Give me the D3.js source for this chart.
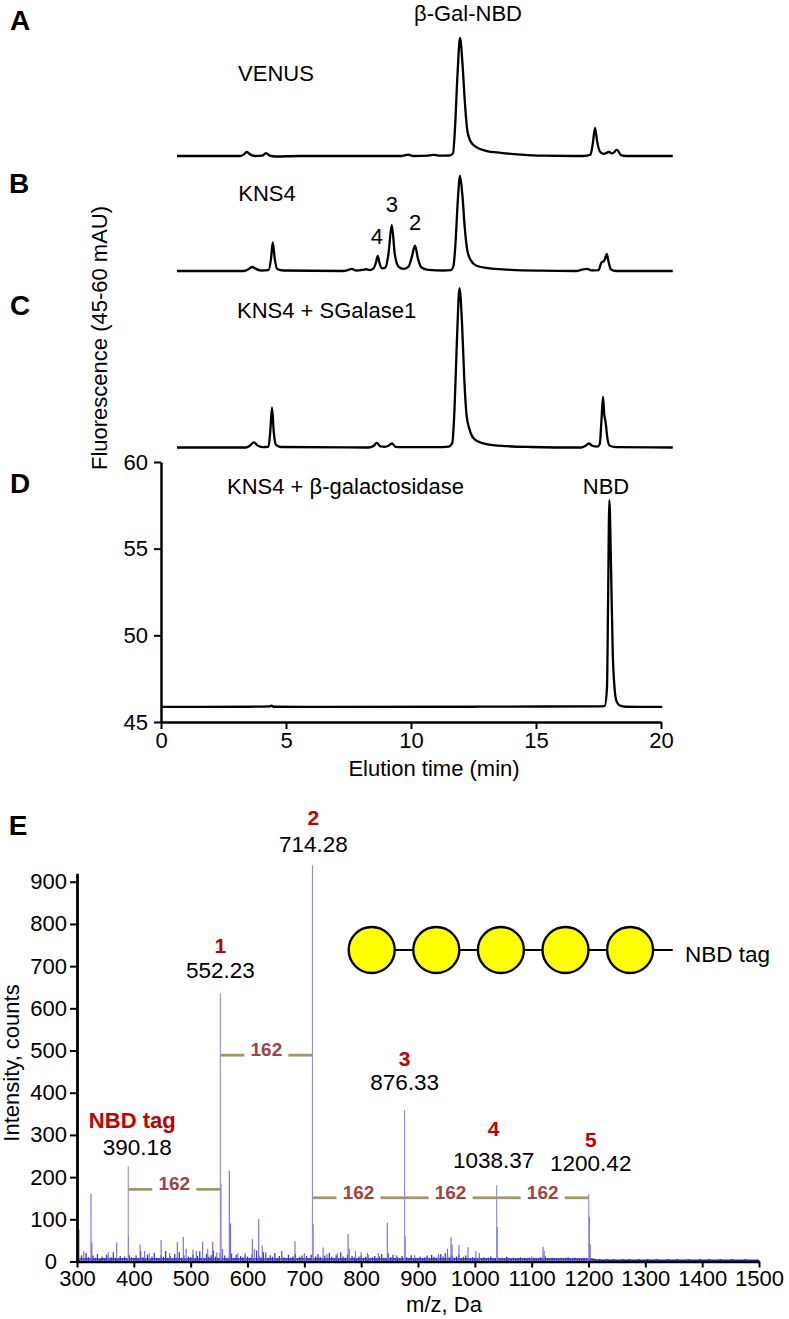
<!DOCTYPE html>
<html><head><meta charset="utf-8">
<script src="https://cdn.jsdelivr.net/npm/d3@7"></script>
<style>
body{margin:0;background:#fff}
svg{display:block}
text{font-family:"Liberation Sans",Arial,Helvetica,sans-serif}
</style>
</head><body>
<svg id="chart" width="789" height="1319"></svg>
<script>
// ---------------- DATA ----------------
// HPLC panels: [elution time (min), fluorescence above baseline (mAU)]
const traceVenus = [[0.64,0],[3.15,0],[3.3,0.08],[3.43,0.23],[3.58,0.08],[3.8,0],[4.05,0.02],[4.2,0.17],[4.35,0.02],[4.6,-0.03],[5.5,0],[9.6,0],[9.88,0.08],[10.1,0],[10.7,0.02],[10.9,0.07],[11.1,0.02],[11.55,0.03],[11.68,0.15],[11.76,1.6],[11.86,4.7],[11.96,6.81],[12.06,5.3],[12.15,3.2],[12.25,1.5],[12.4,0.8],[12.63,0.5],[13.0,0.3],[13.6,0.18],[14.4,0.08],[15.2,0.02],[16.9,0],[17.18,0.08],[17.27,0.7],[17.36,1.62],[17.45,0.8],[17.56,0.25],[17.7,0.12],[17.92,0.23],[18.05,0.15],[18.24,0.35],[18.4,0.05],[18.6,0],[20.47,0]];
const traceKNS4 = [[0.64,0],[3.3,0],[3.5,0.1],[3.64,0.23],[3.8,0.12],[4.0,0.03],[4.3,0.05],[4.4,0.7],[4.47,1.65],[4.55,0.7],[4.65,0.12],[4.9,0.03],[7.3,0],[7.5,0.06],[7.63,0.12],[7.8,0.03],[8.05,0.06],[8.2,0.1],[8.35,0.05],[8.5,0.15],[8.6,0.5],[8.67,0.87],[8.75,0.4],[8.85,0.15],[8.98,0.2],[9.1,1.0],[9.23,2.65],[9.35,1.0],[9.5,0.25],[9.7,0.12],[9.9,0.25],[10.03,0.8],[10.16,1.46],[10.28,0.7],[10.42,0.2],[10.7,0.06],[11.3,0.03],[11.6,0.05],[11.7,0.3],[11.78,1.6],[11.87,4.0],[11.96,5.48],[12.06,4.3],[12.15,2.5],[12.25,1.2],[12.4,0.6],[12.6,0.32],[13.0,0.18],[14.0,0.07],[15.2,0.02],[16.6,0],[16.9,0.1],[17.05,0.12],[17.2,0.04],[17.5,0.05],[17.62,0.5],[17.7,0.55],[17.76,0.7],[17.83,0.98],[17.9,0.55],[18.0,0.08],[18.2,0],[20.47,0]];
const traceSGalase = [[0.64,0],[3.4,0],[3.55,0.1],[3.72,0.29],[3.88,0.1],[4.1,0.02],[4.3,0.05],[4.37,0.9],[4.44,2.31],[4.51,0.9],[4.6,0.15],[4.8,0.03],[8.3,0],[8.5,0.08],[8.63,0.27],[8.78,0.06],[8.95,0.04],[9.1,0.1],[9.24,0.23],[9.38,0.04],[9.6,0.02],[11.0,0.02],[11.5,0.05],[11.65,0.25],[11.74,2.2],[11.84,6.3],[11.94,9.2],[12.04,7.2],[12.13,4.0],[12.22,1.9],[12.35,1.0],[12.56,0.45],[13.0,0.2],[13.8,0.08],[14.8,0.03],[16.8,0],[17.0,0.12],[17.12,0.23],[17.25,0.1],[17.45,0.05],[17.55,0.2],[17.62,1.6],[17.68,2.94],[17.73,1.9],[17.78,1.5],[17.86,0.5],[17.95,0.1],[18.2,0.02],[20.47,0]];
// panel D in absolute mAU
const traceBGal = [[0,45.87],[3.5,45.88],[4.35,45.9],[4.42,45.95],[4.5,45.88],[6.5,45.87],[12.5,45.88],[13,45.89],[17.5,45.9],[17.75,45.93],[17.84,47],[17.88,51.5],[17.935,57.8],[18.0,54],[18.07,49],[18.14,47],[18.22,46.2],[18.35,45.95],[18.6,45.88],[20.05,45.87]];
const hplcXTicks = [0,5,10,15,20];
const hplcYTicks = [45,50,55,60];
const peakNumbers = ["4","3","2"];
const peakNumberTimes = [8.67,9.23,10.16];

// MS panel
const msXTicks = [300,400,500,600,700,800,900,1000,1100,1200,1300,1400,1500];
const msYTicks = [0,100,200,300,400,500,600,700,800,900];
const labelMz = [390.18,552.23,714.28,876.33,1038.37,1200.42];
const labelIntensity = [226,635,939,359,181,160];
const labelNames = ["NBD tag","1","2","3","4","5"];
const minorMz = [303.5,312,324.6,326.2,355,369.8,390.6,411,419,427,448,463,476.5,487,492,504,510,521,530,538.7,546,553.3,556,568,570.2,583,596,608.5,612,619.7,626,632,648,660,683.6,700,715.4,733,740,758,777,779,790,800,811,830,846,848,862,877.4,894,916,936,952,958,960,972,988,1002,1008,1039.4,1058,1100,1120,1122,1201.5,1203];
const minorInt = [75,25,160,45,22,45,62,40,25,20,51,20,46,58,30,28,25,47,30,47,22,185,30,215,90,20,20,53,30,100,38,22,20,25,48,20,88,33,18,20,65,30,25,22,20,20,92,20,15,59,15,12,18,30,58,40,39,34,25,20,82,10,12,35,25,106,40];
// baseline noise, one value every 4 m/z from 300 to 1500
const noiseStart = 300, noiseStep = 4;
const noiseInt = [
12,8,15,6,20,10,7,14,9,18,5,11,8,16,7,10,22,9,6,13,8,12,7,15,10,
9,14,7,24,10,8,16,6,12,20,9,7,15,11,25,8,13,6,18,10,22,9,14,7,12,
10,16,8,13,24,9,7,18,11,15,26,12,9,20,8,14,7,11,19,9,16,8,13,10,15,
12,9,17,8,26,14,10,22,18,9,15,11,20,8,13,24,10,7,16,9,12,18,8,11,14,
9,13,7,16,8,12,18,10,7,14,9,20,11,8,15,7,22,12,9,16,8,13,10,7,12,
14,8,11,16,7,10,13,8,12,18,9,7,14,10,16,8,11,7,13,9,10,8,15,7,9,
8,12,7,10,14,8,16,11,9,13,18,12,20,15,10,14,9,12,16,8,11,14,9,7,10,
9,7,11,8,10,6,9,12,7,8,10,6,9,7,11,8,6,9,7,8,10,6,8,7,9,
7,9,6,8,10,7,12,8,6,9,7,8,6,9,7,8,10,6,7,9,6,8,7,9,6,
8,6,5,4,3,4,3,3,4,3,3,4,3,3,3,4,3,3,4,3,3,3,4,3,3,
3,4,3,3,3,4,3,3,3,3,4,3,3,3,4,3,3,3,3,4,3,3,3,3,4,
3,3,3,4,3,3,3,3,4,3,3,3,3,4,3,3,3,3,3,4,3,3,3,3,3,3];
// mass differences (hexose = 162) between consecutive ladder peaks
const diffFrom = [390.18,552.23,714.28,876.33,1038.37];
const diffTo   = [552.23,714.28,876.33,1038.37,1200.42];
const diffLevel = [171,489,151,151,151];
const diffText = "162";
const glycanUnits = 5;

// ---------------- LAYOUT ----------------
const FONT = 22;
const svg = d3.select("#chart");
svg.append("rect").attr("width",789).attr("height",1319).attr("fill","#fff");

const x = d3.scaleLinear().domain([0,20]).range([161,661]);
const yD = d3.scaleLinear().domain([45,60]).range([722,462]);
const pxPerUnit = (722-462)/15;
const panelY = base => d3.scaleLinear().domain([0,10]).range([base, base-10*pxPerUnit]);
const yA = panelY(156), yB = panelY(271), yC = panelY(447.5);

function drawTrace(data, ys){
  svg.append("path").datum(data)
    .attr("d", d3.line().x(d=>x(d[0])).y(d=>ys(d[1])).curve(d3.curveMonotoneX))
    .attr("fill","none").attr("stroke","#000").attr("stroke-width",2.3)
    .attr("stroke-linejoin","round");
}
drawTrace(traceVenus, yA);
drawTrace(traceKNS4, yB);
drawTrace(traceSGalase, yC);
drawTrace(traceBGal, yD);

function styleAxis(g, domainW){
  g.attr("font-size",null).attr("font-family",null);
  g.select(".domain").attr("stroke","#000").attr("stroke-width",domainW);
  g.selectAll(".tick line").attr("stroke","#000").attr("stroke-width",2);
  g.selectAll(".tick text").attr("fill","#000").style("font-size",FONT+"px")
    .style("font-family",'"Liberation Sans",Arial,sans-serif');
}
const gxD = svg.append("g").attr("transform","translate(0,722)")
  .call(d3.axisBottom(x).tickValues(hplcXTicks).tickSize(7).tickSizeOuter(0).tickPadding(3));
styleAxis(gxD,2.5);
const gyD = svg.append("g").attr("transform","translate(161,0)")
  .call(d3.axisLeft(yD).tickValues(hplcYTicks).tickSize(7).tickSizeOuter(0).tickPadding(6));
styleAxis(gyD,2.5);

function txt(s, px, py, opt={}){
  const t = svg.append("text").attr("x",px).attr("y",py).text(s)
    .attr("text-anchor",opt.anchor||"middle")
    .style("font-size",(opt.size||FONT)+"px")
    .attr("fill",opt.fill||"#000");
  if(opt.bold) t.style("font-weight","bold");
  if(opt.rotate) t.attr("transform",`rotate(-90,${px},${py})`);
  return t;
}
// panel letters
[["A",20,30],["B",19,193],["C",20,315],["D",20,493],["E",18,835]].forEach(d=>txt(d[0],d[1],d[2],{size:28,bold:true}));
// HPLC annotations
txt("β-Gal-NBD",468,21);
txt("VENUS",276,81);
txt("KNS4",267,201);
txt("KNS4 + SGalase1",237,318,{anchor:"start"});
txt("KNS4 + β-galactosidase",227,494,{anchor:"start"});
txt("NBD",x(17.8),494);
const numOffsets = [[-0.04,244],[0.0,212],[0.0,230]];
peakNumbers.forEach((n,i)=>txt(n, x(peakNumberTimes[i]+numOffsets[i][0]), numOffsets[i][1]));
txt("Fluorescence (45-60 mAU)",107,338,{rotate:true});
txt("Elution time (min)",434,776);

// ---------------- MS PANEL ----------------
const xE = d3.scaleLinear().domain([300,1500]).range([77,759]);
const yE = d3.scaleLinear().domain([0,920]).range([1261.5,873.3]);

// noise as dense thin spikes
const noisePath = d3.path();
noiseInt.forEach((v,i)=>{
  const mz = noiseStart + i*noiseStep;
  if(mz>1500) return;
  noisePath.moveTo(xE(mz), yE(0)); noisePath.lineTo(xE(mz), yE(v));
});
svg.append("path").attr("d",noisePath.toString()).attr("stroke","#3a3ad6").attr("stroke-width",1.3).attr("fill","none");
svg.append("path").datum(noiseInt.map((v,i)=>[noiseStart+i*noiseStep, Math.min(v,6)]).filter(d=>d[0]<=1500))
  .attr("d", d3.line().x(d=>xE(d[0])).y(d=>yE(d[1])))
  .attr("stroke","#2c2cc8").attr("stroke-width",1.6).attr("fill","none");
// minor peaks
svg.selectAll("line.minor").data(minorMz).join("line").attr("class","minor")
  .attr("x1",d=>xE(d)).attr("x2",d=>xE(d)).attr("y1",yE(0)).attr("y2",(d,i)=>yE(minorInt[i]))
  .attr("stroke","#6a6ae6").attr("stroke-width",1.1);
// labelled peaks
svg.selectAll("line.major").data(labelMz).join("line").attr("class","major")
  .attr("x1",d=>xE(d)).attr("x2",d=>xE(d)).attr("y1",yE(0)).attr("y2",(d,i)=>yE(labelIntensity[i]))
  .attr("stroke","#8c8cf0").attr("stroke-width",1.1);

const gxE = svg.append("g").attr("transform","translate(0,1261.5)")
  .call(d3.axisBottom(xE).tickValues(msXTicks).tickFormat(d3.format("d")).tickSize(6).tickSizeOuter(0).tickPadding(3));
styleAxis(gxE,2.5);
const gyE = svg.append("g").attr("transform","translate(77,0)")
  .call(d3.axisLeft(yE).tickValues(msYTicks).tickFormat(d3.format("d")).tickSize(7).tickSizeOuter(0).tickPadding(3));
styleAxis(gyE,2.8);
gyE.selectAll(".tick text").filter(d=>d===0).attr("x",-20);

// peak labels
const numLift = [11,16,13,20,17,23];
const numShift = [9,0,1,0,-3,2];
const nameLift = [27,25,27.5,24,32,24];
labelMz.forEach((mz,i)=>{
  const px = xE(mz)+numShift[i];
  const base = yE(labelIntensity[i]) - numLift[i];
  txt(mz.toFixed(2), px, base, {size:22.5});
  txt(labelNames[i], px - (i===0?5:0), base - nameLift[i], {size: i===0?22:21, bold:true, fill:"#c00000"});
});
// 162 spacing brackets
diffFrom.forEach((a,i)=>{
  const x1 = xE(a), x2 = xE(diffTo[i]), yy = yE(diffLevel[i]), mid = (x1+x2)/2;
  [[x1, mid-22],[mid+22, x2]].forEach(s=>svg.append("line")
    .attr("x1",s[0]).attr("x2",s[1]).attr("y1",yy).attr("y2",yy)
    .attr("stroke","#a09868").attr("stroke-width",2.8));
  txt(diffText, mid, yy+1, {size:19, bold:true, fill:"#a04444"});
});
txt("Intensity, counts",18.5,1063,{rotate:true});
txt("m/z, Da",444,1312);

// glycan cartoon
const gx0 = 371.7, gdx = 64.6, gy = 950, gr = 23;
svg.append("line").attr("x1",gx0).attr("x2",672.7).attr("y1",gy).attr("y2",gy)
  .attr("stroke","#000").attr("stroke-width",2);
svg.selectAll("circle.glc").data(d3.range(glycanUnits)).join("circle").attr("class","glc")
  .attr("cx",d=>gx0+d*gdx).attr("cy",gy).attr("r",gr)
  .attr("fill","#ffff00").attr("stroke","#000").attr("stroke-width",2.4);
txt("NBD tag",685,962,{anchor:"start",size:22.5});
</script>
</body></html>
